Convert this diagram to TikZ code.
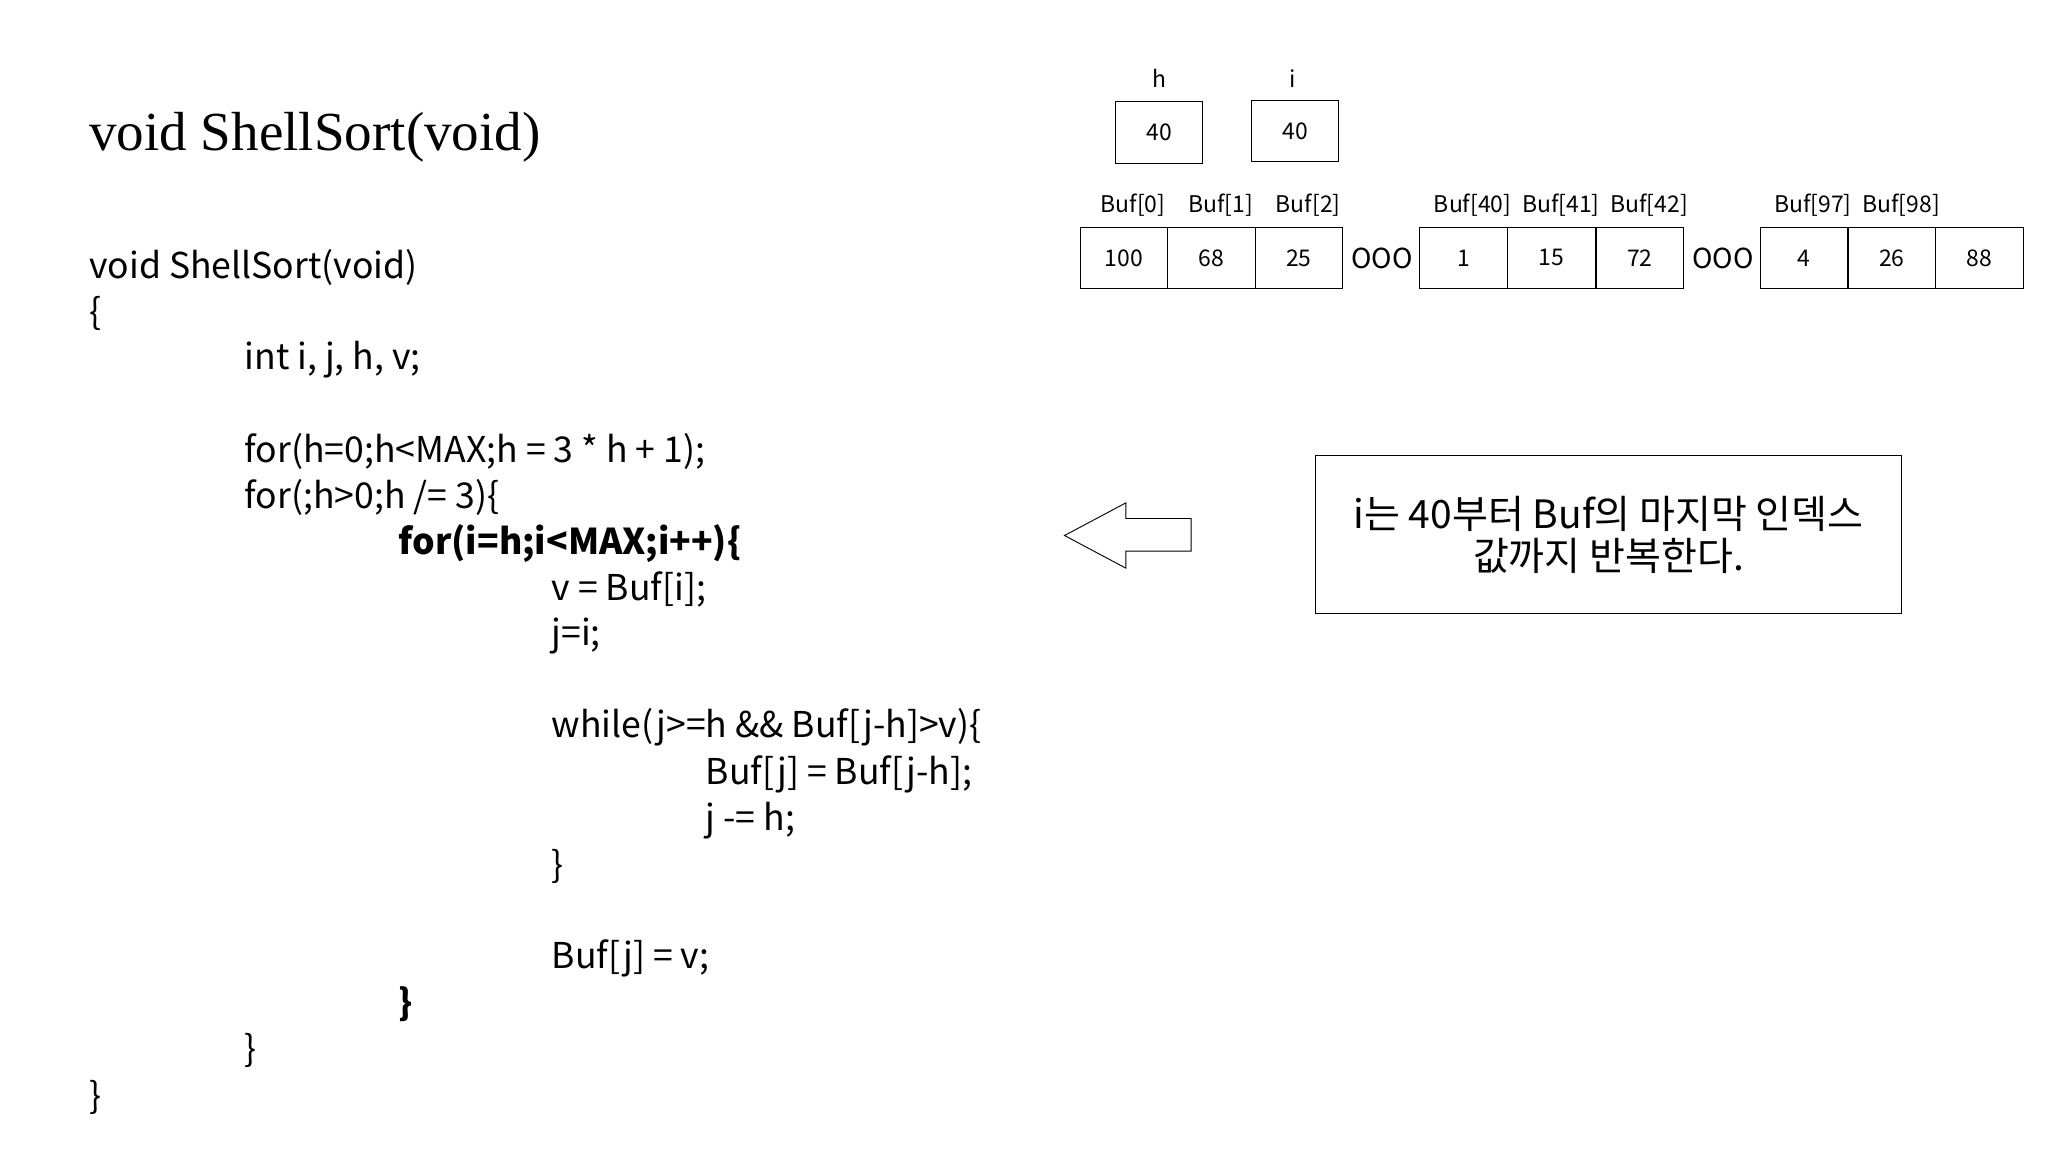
\documentclass[tikz,border=0pt]{standalone}
\usepackage{fontspec}
\setmainfont{Liberation Serif}
\newfontfamily\kr{Noto Sans CJK KR}
\begin{document}
\begin{tikzpicture}[x=0.02cm,y=-0.02cm,
  code/.style={anchor=west,inner sep=0,font=\kr\fontsize{15.5}{18}\selectfont},
  cell/.style={draw,minimum width=1.34cm,minimum height=0.94cm,inner sep=0,font=\kr\fontsize{10}{12}\selectfont},
  lbl/.style={inner sep=0,font=\kr\fontsize{10}{12}\selectfont}]
\useasboundingbox (0,0) rectangle (1568,882);
\node[anchor=west,inner sep=0,font=\fontsize{24}{28}\selectfont] (title) at (68,105) {void ShellSort(void)};
\node[code] (c1) at (68,205) {void ShellSort(void)};
\node[code] (c2) at (68,240) {\{};
\node[code] (c3) at (187,275) {int i, j, h, v;};
\node[code] (c4) at (187,346) {for(h=0;h<MAX;h = 3 * h + 1);};
\node[code] (c5) at (187,381) {for(;h>0;h /= 3)\{};
\node[code,font=\kr\bfseries\fontsize{15.5}{18}\selectfont] (c6) at (305,416) {for(i=h;i<MAX;i++)\{};
\node[code] (c7) at (422,451) {v = Buf[i];};
\node[code] (c8) at (422,487) {j=i;};
\node[code] (c9) at (422,557) {while(j>=h \&\& Buf[j-h]>v)\{};
\node[code] (c10) at (540,593) {Buf[j] = Buf[j-h];};
\node[code] (c11) at (540,628) {j -= h;};
\node[code] (c12) at (422,663) {\}};
\node[code] (c13) at (422,734) {Buf[j] = v;};
\node[code,font=\kr\bfseries\fontsize{15.5}{18}\selectfont] (c14) at (305,769) {\}};
\node[code] (c15) at (187,804) {\}};
\node[code] (c16) at (68,840) {\}};
% h, i
\node[lbl] (hl) at (888,60) {h};
\node[lbl] (il) at (990,60) {i};
\node[cell,minimum height=0.94cm] (hb) at (887.5,101.5) {40};
\node[cell] (ib) at (991.5,100.5) {40};
% array
\foreach \n/\x/\v/\l in {a0/860.5/100/Buf[0],a1/927.5/68/Buf[1],a2/994.5/25/Buf[2],
  a40/1120.5/1/Buf[40],a41/1188/15/Buf[41],a42/1255.5/72/Buf[42],
  a97/1381/4/Buf[97],a98/1448.5/26/Buf[98],a99/1515.5/88/{}}{
  \node[cell] (\n) at (\x,197.5) {\v};
  \node[lbl] (\n l) at ([xshift=4]\n) [yshift=0.81cm] {\l};
}
\node[lbl,font=\kr\fontsize{12}{14}\selectfont] (d1) at (1058,198) {OOO};
\node[lbl,font=\kr\fontsize{12}{14}\selectfont] (d2) at (1319,198) {OOO};
% arrow
\draw (815,410) -- (862,385) -- (862,397) -- (912,397) -- (912,422) -- (862,422) -- (862,435) -- cycle;
% note box
\node[draw,minimum width=8.98cm,minimum height=2.42cm,align=center,inner sep=0,
  font=\kr\fontsize{17}{18}\selectfont] (note) at (1231.5,409.5) {i는 40부터 Buf의 마지막 인덱스\\값까지 반복한다.};
\end{tikzpicture}
\end{document}
